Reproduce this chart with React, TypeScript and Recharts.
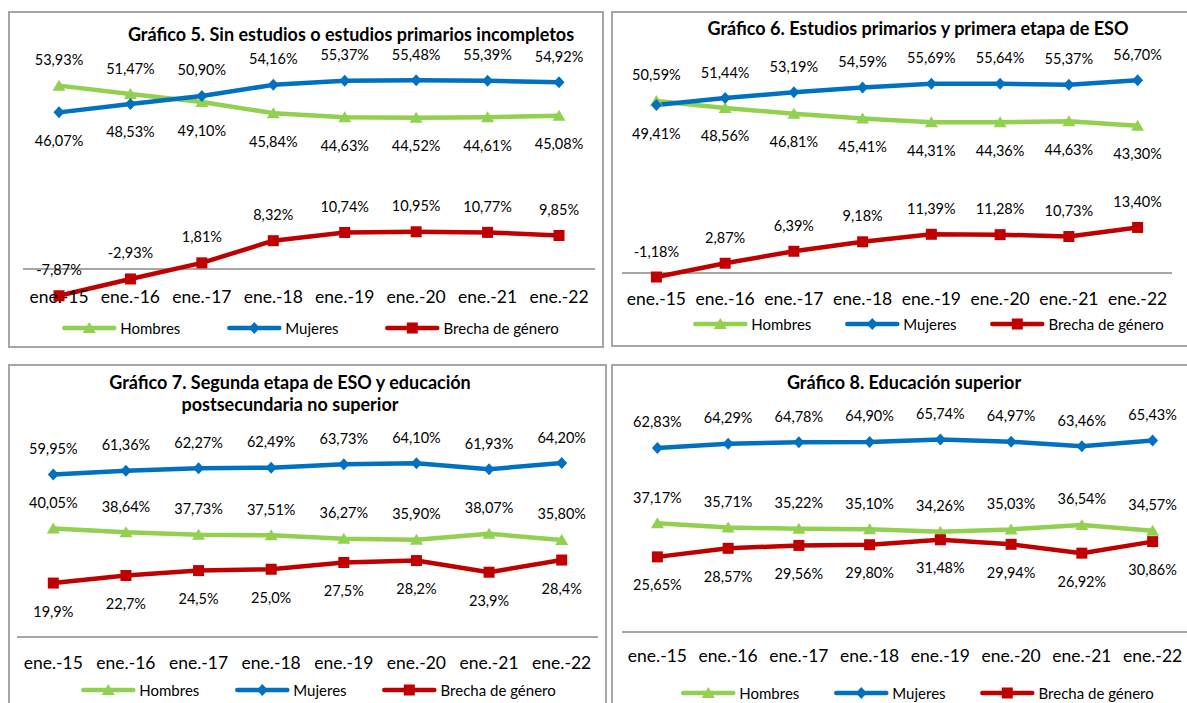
import React from 'react';
import { LineChart, Line, XAxis, YAxis, ReferenceLine, LabelList } from 'recharts';

const categories = ['ene.-15', 'ene.-16', 'ene.-17', 'ene.-18', 'ene.-19', 'ene.-20', 'ene.-21', 'ene.-22'];

const hombres5 = [53.93, 51.47, 49.1, 45.84, 44.63, 44.52, 44.61, 45.08];
const mujeres5 = [46.07, 48.53, 50.9, 54.16, 55.37, 55.48, 55.39, 54.92];
const brecha5 = [-7.87, -2.93, 1.81, 8.32, 10.74, 10.95, 10.77, 9.85];

const hombres6 = [50.59, 48.56, 46.81, 45.41, 44.31, 44.36, 44.63, 43.3];
const mujeres6 = [49.41, 51.44, 53.19, 54.59, 55.69, 55.64, 55.37, 56.7];
const brecha6 = [-1.18, 2.87, 6.39, 9.18, 11.39, 11.28, 10.73, 13.4];

const hombres7 = [40.05, 38.64, 37.73, 37.51, 36.27, 35.9, 38.07, 35.8];
const mujeres7 = [59.95, 61.36, 62.27, 62.49, 63.73, 64.1, 61.93, 64.2];
const brecha7 = [19.9, 22.7, 24.5, 25.0, 27.5, 28.2, 23.9, 28.4];

const hombres8 = [37.17, 35.71, 35.22, 35.1, 34.26, 35.03, 36.54, 34.57];
const mujeres8 = [62.83, 64.29, 64.78, 64.9, 65.74, 64.97, 63.46, 65.43];
const brecha8 = [25.65, 28.57, 29.56, 29.8, 31.48, 29.94, 26.92, 30.86];

const seriesNames = ['Hombres', 'Mujeres', 'Brecha de género'];

const FONT = 'Lato, "Noto Sans", sans-serif';
const GREEN = '#92D050';
const BLUE = '#0070C0';
const RED = '#C00000';
const GREY = '#A6A6A6';
const COLORS = [GREEN, BLUE, RED];

const fmt = (v: number, d: number) => v.toFixed(d).replace('.', ',') + '%';

type Mode = 'above' | 'below' | 'compare';

function Marker({ kind, cx, cy, color }: { kind: number; cx: number; cy: number; color: string }) {
  if (kind === 0) {
    return <polygon points={`${cx},${cy - 6} ${cx + 6.5},${cy + 5} ${cx - 6.5},${cy + 5}`} fill={color} />;
  }
  if (kind === 1) {
    return <polygon points={`${cx},${cy - 6} ${cx + 5.5},${cy} ${cx},${cy + 6} ${cx - 5.5},${cy}`} fill={color} />;
  }
  return <rect x={cx - 5.5} y={cy - 5.5} width={11} height={11} fill={color} />;
}

const makeDot = (kind: number) => (p: any) => {
  if (p.cx == null || p.cy == null) return <g key={p.key} />;
  return <Marker key={p.key} kind={kind} cx={p.cx} cy={p.cy} color={COLORS[kind]} />;
};

const makeLabel = (mode: Mode, decimals: number, own: number[], other: number[]) => (props: any) => {
  const x = props.x ?? props.viewBox?.x;
  const y = props.y ?? props.viewBox?.y;
  const index = props.index;
  let above = mode === 'above';
  if (mode === 'compare') above = own[index] >= other[index];
  const dy = above ? -26 : 28;
  return (
    <text
      key={`lbl-${index}`}
      x={x}
      y={y + dy}
      textAnchor="middle"
      dominantBaseline="central"
      fontFamily={FONT}
      fontSize={14.5}
      fill="#000"
    >
      {fmt(own[index], decimals)}
    </text>
  );
};

const makeTick = (shift: number) => (props: any) => (
  <text
    x={props.x}
    y={props.y + shift}
    textAnchor="middle"
    dominantBaseline="central"
    fontFamily={FONT}
    fontSize={17.5}
    fill="#000"
  >
    {props.payload.value}
  </text>
);

function Legend({ x, y, gap }: { x: number; y: number; gap: number }) {
  return (
    <div
      style={{
        position: 'absolute',
        left: x,
        top: y,
        transform: 'translate(-50%, -50%)',
        display: 'flex',
        alignItems: 'center',
        gap,
        whiteSpace: 'nowrap',
        fontFamily: FONT,
        fontSize: 15,
        color: '#000',
      }}
    >
      {seriesNames.map((n, i) => (
        <div key={n} style={{ display: 'flex', alignItems: 'center' }}>
          <svg width={56} height={14} style={{ display: 'block' }}>
            <line x1={3} y1={7} x2={53} y2={7} stroke={COLORS[i]} strokeWidth={4.5} strokeLinecap="round" />
            <Marker kind={i} cx={28} cy={7} color={COLORS[i]} />
          </svg>
          <span style={{ marginLeft: 3 }}>{n}</span>
        </div>
      ))}
    </div>
  );
}

type Panel = {
  title: string[];
  titleX: number;
  titleY: number;
  box: { left: number; top: number; width: number; height: number };
  chart: { left: number; top: number; width: number; height: number };
  plot: { left: number; right: number; top: number; bottom: number };
  pad: number;
  domain: [number, number];
  zeroLine: boolean;
  tickShift: number;
  legend: { x: number; y: number; gap: number };
  h: number[];
  m: number[];
  b: number[];
  modes: [Mode, Mode, Mode];
  dec: [number, number, number];
};

const panels: Panel[] = [
  {
    title: ['Gráfico 5. Sin estudios o estudios primarios incompletos'],
    titleX: 351,
    titleY: 34,
    box: { left: 8, top: 11, width: 596, height: 337 },
    chart: { left: 8, top: 11, width: 596, height: 337 },
    plot: { left: 23, right: 595, top: 65, bottom: 303 },
    pad: 36,
    domain: [-10, 60],
    zeroLine: true,
    tickShift: -7,
    legend: { x: 310, y: 328, gap: 46 },
    h: hombres5,
    m: mujeres5,
    b: brecha5,
    modes: ['compare', 'compare', 'above'],
    dec: [2, 2, 2],
  },
  {
    title: ['Gráfico 6. Estudios primarios y primera etapa de ESO'],
    titleX: 918,
    titleY: 28,
    box: { left: 611, top: 11, width: 600, height: 336 },
    chart: { left: 611, top: 11, width: 576, height: 336 },
    plot: { left: 622, right: 1172, top: 69, bottom: 307 },
    pad: 34.4,
    domain: [-10, 60],
    zeroLine: true,
    tickShift: -9,
    legend: { x: 928, y: 324, gap: 33 },
    h: hombres6,
    m: mujeres6,
    b: brecha6,
    modes: ['compare', 'compare', 'above'],
    dec: [2, 2, 2],
  },
  {
    title: ['Gráfico 7. Segunda etapa de ESO y educación', 'postsecundaria no superior'],
    titleX: 290,
    titleY: 393,
    box: { left: 8, top: 364, width: 599, height: 400 },
    chart: { left: 8, top: 364, width: 599, height: 339 },
    plot: { left: 17, right: 598, top: 447.3, bottom: 637 },
    pad: 36.3,
    domain: [0, 70],
    zeroLine: false,
    tickShift: 25,
    legend: { x: 318, y: 690, gap: 35 },
    h: hombres7,
    m: mujeres7,
    b: brecha7,
    modes: ['above', 'above', 'below'],
    dec: [2, 2, 1],
  },
  {
    title: ['Gráfico 8. Educación superior'],
    titleX: 904,
    titleY: 382,
    box: { left: 611, top: 364, width: 600, height: 400 },
    chart: { left: 611, top: 364, width: 580, height: 339 },
    plot: { left: 622, right: 1188, top: 427, bottom: 632 },
    pad: 35.4,
    domain: [0, 70],
    zeroLine: false,
    tickShift: 23,
    legend: { x: 917, y: 693, gap: 34 },
    h: hombres8,
    m: mujeres8,
    b: brecha8,
    modes: ['above', 'above', 'below'],
    dec: [2, 2, 2],
  },
];

const X_AXIS_H = 30;

function PanelChart({ p }: { p: Panel }) {
  const data = categories.map((c, i) => ({ cat: c, h: p.h[i], m: p.m[i], b: p.b[i] }));
  const margin = {
    top: p.plot.top - p.chart.top,
    left: p.plot.left - p.chart.left,
    right: p.chart.left + p.chart.width - p.plot.right,
    bottom: p.chart.top + p.chart.height - p.plot.bottom - X_AXIS_H,
  };
  const keys = ['h', 'm', 'b'];
  const arrays = [p.h, p.m, p.b];
  const others = [p.m, p.h, p.h];
  return (
    <>
      <div
        style={{
          position: 'absolute',
          left: p.box.left,
          top: p.box.top,
          width: p.box.width,
          height: p.box.height,
          border: `2px solid ${GREY}`,
          boxSizing: 'border-box',
        }}
      />
      <div style={{ position: 'absolute', left: p.chart.left, top: p.chart.top }}>
        <LineChart width={p.chart.width} height={p.chart.height} data={data} margin={margin}>
          <XAxis
            dataKey="cat"
            axisLine={p.zeroLine ? false : { stroke: GREY, strokeWidth: 2 }}
            tickLine={false}
            tickSize={0}
            tickMargin={0}
            height={X_AXIS_H}
            interval={0}
            padding={{ left: p.pad, right: p.pad }}
            tick={makeTick(p.tickShift)}
          />
          <YAxis hide type="number" domain={p.domain} tickCount={8} />
          {p.zeroLine && <ReferenceLine y={0} stroke={GREY} strokeWidth={2} />}
          {keys.map((k, i) => (
            <Line
              key={k}
              dataKey={k}
              type="linear"
              stroke={COLORS[i]}
              strokeWidth={4.5}
              strokeLinejoin="round"
              dot={makeDot(i)}
              activeDot={false}
              isAnimationActive={false}
            >
              <LabelList dataKey={k} content={makeLabel(p.modes[i], p.dec[i], arrays[i], others[i])} />
            </Line>
          ))}
        </LineChart>
      </div>
      <div
        style={{
          position: 'absolute',
          left: p.titleX,
          top: p.titleY,
          transform: 'translate(-50%, -50%)',
          fontFamily: FONT,
          fontWeight: 700,
          fontSize: 18,
          lineHeight: '22px',
          textAlign: 'center',
          whiteSpace: 'nowrap',
          color: '#000',
        }}
      >
        {p.title.map((t) => (
          <div key={t}>{t}</div>
        ))}
      </div>
      <Legend x={p.legend.x} y={p.legend.y} gap={p.legend.gap} />
    </>
  );
}

export default function App() {
  return (
    <div
      style={{
        position: 'absolute',
        left: 0,
        top: 0,
        width: 1187,
        height: 703,
        overflow: 'hidden',
        background: '#fff',
      }}
    >
      {panels.map((p) => (
        <PanelChart key={p.title[0]} p={p} />
      ))}
    </div>
  );
}
